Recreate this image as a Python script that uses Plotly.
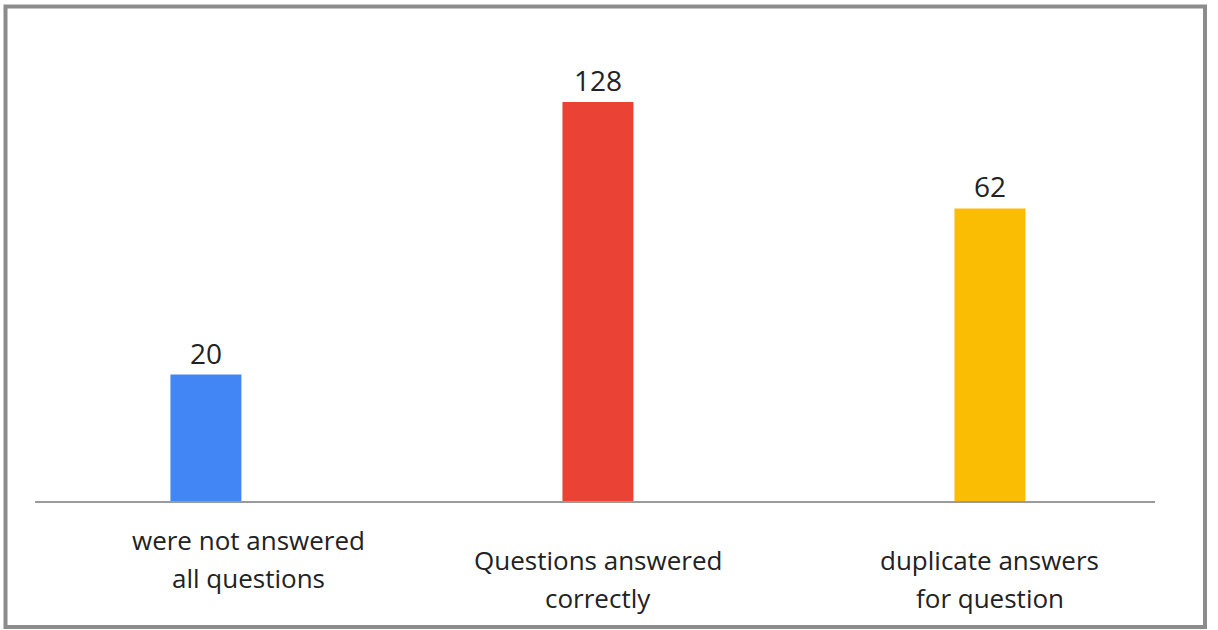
import plotly.graph_objects as go

categories = ["were not answered<br>all questions",
              "Questions answered<br>correctly",
              "duplicate answers<br>for question"]
values = [20, 128, 62]
colors = ["#4285F4", "#EA4335", "#FBBC04"]
label_offsets_x = [43, 0, 0]
label_line1_y = [540, 560, 560]   # pixel centre of first label line
line_gap = 38

W, H = 1218, 630
ml, mr, mt, mb = 35, 63, 40, 129
pw, ph = W - ml - mr, H - mt - mb
base_px = H - mb

fig = go.Figure(go.Bar(
    x=categories, y=values,
    marker=dict(color=colors, line=dict(width=0)),
    width=0.181,
    text=[str(v) for v in values],
    textposition="outside",
    textfont=dict(family="Open Sans", size=28, color="#222222"),
    cliponaxis=False,
))

for c, dx, y1 in zip(categories, label_offsets_x, label_line1_y):
    for i, line in enumerate(c.split("<br>")):
        fig.add_annotation(x=c, xref="x", y=0, yref="paper", text=line,
                           showarrow=False, xshift=dx,
                           yshift=base_px - (y1 + i * line_gap),
                           xanchor="center", yanchor="middle",
                           font=dict(family="Open Sans", size=26, color="#222222"))

# outer frame
def px_x(p):
    return (p - ml) / pw
def px_y(p):
    return (H - mb - p) / ph
fig.add_shape(type="rect", xref="paper", yref="paper",
              x0=px_x(5.5), x1=px_x(1205), y0=px_y(627), y1=px_y(6.5),
              line=dict(color="#8c8c8c", width=4), fillcolor="rgba(0,0,0,0)")

fig.update_layout(
    width=W, height=H,
    margin=dict(l=ml, r=mr, t=mt, b=mb),
    plot_bgcolor="white", paper_bgcolor="white",
    showlegend=False,
    xaxis=dict(range=[-0.436, 2.421], showticklabels=False, ticks="",
               showline=True, linecolor="#9a9a9a", linewidth=2,
               showgrid=False, zeroline=False),
    yaxis=dict(type="log", range=[0.927, 2.2905], visible=False,
               showgrid=False, zeroline=False),
)

fig.write_html("out.html")
